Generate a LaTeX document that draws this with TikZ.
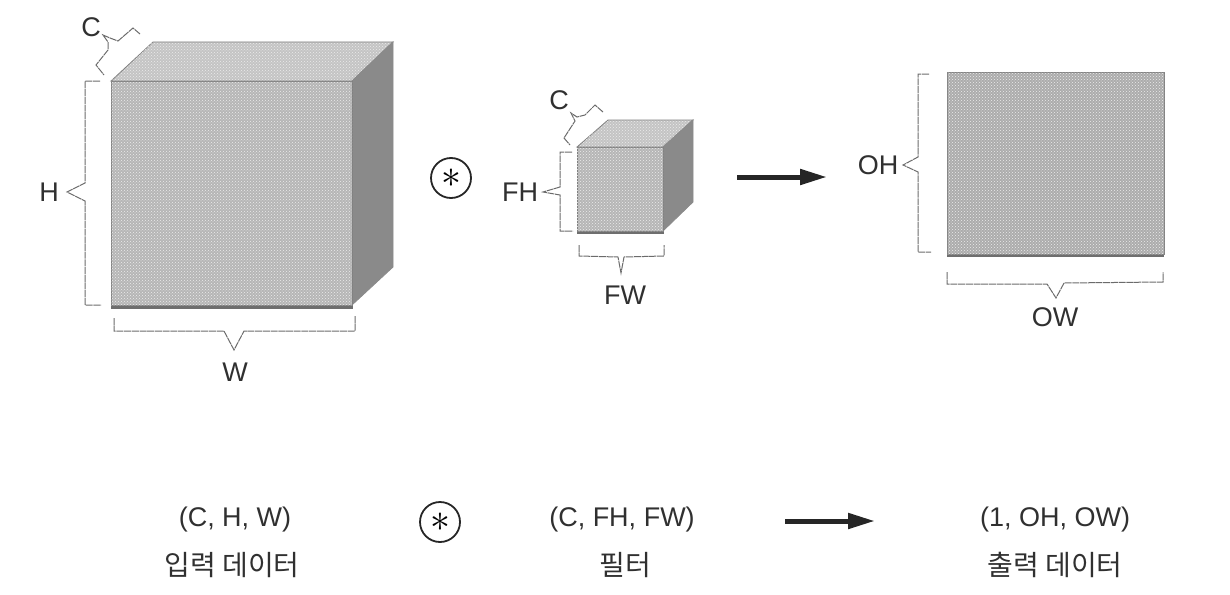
\documentclass[tikz,border=0pt]{standalone}
\usepackage{fontspec}
\setmainfont{Liberation Sans}
\newfontfamily\krfont{Noto Sans CJK KR}
\usetikzlibrary{arrows.meta,calc,patterns}
\definecolor{faceFront}{HTML}{B6B6B6}
\definecolor{faceTop}{HTML}{C4C4C4}
\definecolor{faceSide}{HTML}{8A8A8A}
\definecolor{faceOut}{HTML}{ACACAC}
\definecolor{edgeDark}{HTML}{6E6E6E}
\definecolor{inkText}{HTML}{303030}
\newcommand{\convOp}{\scalebox{1.6}{$\ast$}}
\tikzset{
  dimLabel/.style={font=\fontsize{27}{30}\selectfont, text=inkText, inner sep=0pt},
  shapeLabel/.style={font=\fontsize{27}{30}\selectfont, text=inkText, inner sep=0pt},
  krLabel/.style={font=\krfont\fontsize{28}{30}\selectfont, text=inkText, inner sep=0pt},
  %% Brace lines
  dimBrace/.style={draw=black!58, line width=1pt, line join=miter, dash pattern=on 7pt off 0.7pt},
  %% Faces
  grain/.style={postaction={pattern=crosshatch dots, pattern color=white!85!gray}},
  frontFace/.style={fill=faceFront, draw=gray, line width=1pt, grain},
  topFace/.style={fill=faceTop, draw=gray, line width=0.8pt, grain},
  sideFace/.style={fill=faceSide, draw=faceSide, line width=0.8pt},
  baseEdge/.style={fill=edgeDark, draw=none},
  %% Operator and arrow
  opCircle/.style={circle, draw=black!85, line width=1.8pt, minimum size=40pt, inner sep=0pt,
    font=\fontsize{27}{30}\selectfont},
  flowArrow/.style={-{Triangle[length=27pt,width=15pt]}, line width=5pt, draw=black!85},
}
\begin{document}
\begin{tikzpicture}[x=1pt, y=-1pt]
\useasboundingbox (0,0) rectangle (1230,594);

%% Input volume
\fill[baseEdge] (111,304) rectangle (353,309);
\draw[topFace] (111,81) -- (153,42) -- (393,42) -- (352,81) -- cycle;
\draw[sideFace] (352,81) -- (393,42) -- (393,267) -- (352,305) -- cycle;
\draw[frontFace] (111,81) rectangle (352,305);

%% Input braces
\draw[dimBrace] (100,81) -- (85,81) -- (85,183) -- (67,192) -- (85,201) -- (85,305) -- (101,305);
\draw[dimBrace] (114,318) -- (114,331) -- (224,331) -- (234,350) -- (244,331) -- (355,331) -- (355,316);
\draw[dimBrace] (140,34) -- (133,28) -- (118,41) -- (110,38) -- (103,35) -- (108,42) -- (108,50) -- (96,65) -- (104,75);
\node[dimLabel] (lblC)  at (91,27)   {C};
\node[dimLabel] (lblH)  at (49,192)  {H};
\node[dimLabel] (lblW)  at (235,372) {W};

%% Convolution operator
\node[opCircle] (opTop) at (451,178) {\convOp};

%% Filter volume
\fill[baseEdge] (577,230) rectangle (664,234);
\draw[topFace] (577,147) -- (608,120) -- (693,120) -- (663,147) -- cycle;
\draw[sideFace] (663,147) -- (693,120) -- (693,202) -- (663,231) -- cycle;
\draw[frontFace] (577,147) rectangle (663,231);

%% Filter braces
\draw[dimBrace] (572,152) -- (560,152) -- (560,187) -- (543,192) -- (560,195) -- (560,231) -- (573,231);
\draw[dimBrace] (579,245) -- (579,256) -- (618,257) -- (621,273) -- (624,257) -- (664,256) -- (664,245);
\draw[dimBrace] (603,112) -- (595,105) -- (585,115) -- (577,117) -- (571,113) -- (575,121) -- (564,138) -- (570,145);
\node[dimLabel] (lblFC) at (559,100) {C};
\node[dimLabel] (lblFH) at (520,192) {FH};
\node[dimLabel] (lblFW) at (625,295) {FW};

%% Top arrow
\coordinate (arrTopA) at (737,177);
\coordinate (arrTopB) at (827,177);
\draw[flowArrow] (arrTopA) -- (arrTopB);

%% Output map
\fill[baseEdge] (947,253) rectangle (1164,257);
\draw[frontFace, fill=faceOut] (947,72) rectangle (1164,254);

%% Output braces
\draw[dimBrace] (929,74) -- (918,74) -- (918,157) -- (903,165) -- (918,172) -- (918,252) -- (931,252);
\draw[dimBrace] (947,272) -- (947,284) -- (1047,284) -- (1056,298) -- (1064,283) -- (1163,282) -- (1163,272);
\node[dimLabel] (lblOH) at (878,165)  {OH};
\node[dimLabel] (lblOW) at (1055,317) {OW};

%% Bottom row
\node[shapeLabel] (shpIn)  at (235,520)  {(C, H, W)};
\node[krLabel]    (txtIn)  at (232,565)  {입력 데이터};
\node[opCircle]   (opBot)  at (440,522)  {\convOp};
\node[shapeLabel] (shpFil) at (622,520)  {(C, FH, FW)};
\node[krLabel]    (txtFil) at (625,565)  {필터};
\coordinate (arrBotA) at (785,521);
\coordinate (arrBotB) at (875,521);
\draw[flowArrow] (arrBotA) -- (arrBotB);
\node[shapeLabel] (shpOut) at (1055,520) {(1, OH, OW)};
\node[krLabel]    (txtOut) at (1055,565) {출력 데이터};

\end{tikzpicture}
\end{document}
